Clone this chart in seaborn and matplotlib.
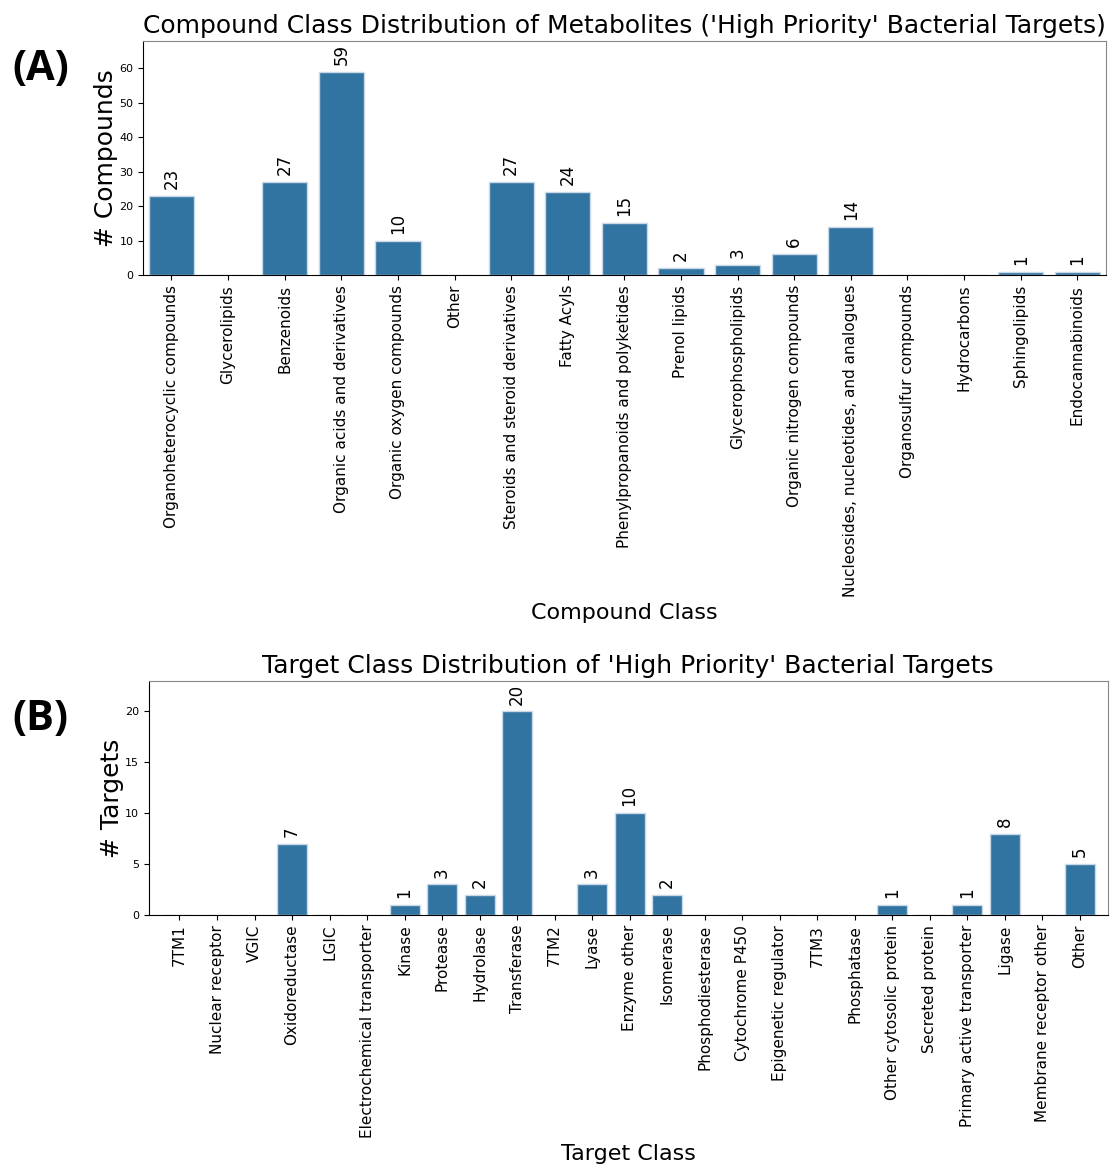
import pandas as pd
import seaborn as sns
import matplotlib.pyplot as plt

compound_classes = ['Organoheterocyclic compounds', 'Glycerolipids', 'Benzenoids',
                    'Organic acids and derivatives', 'Organic oxygen compounds', 'Other',
                    'Steroids and steroid derivatives', 'Fatty Acyls',
                    'Phenylpropanoids and polyketides', 'Prenol lipids',
                    'Glycerophospholipids', 'Organic nitrogen compounds',
                    'Nucleosides, nucleotides, and analogues', 'Organosulfur compounds',
                    'Hydrocarbons', 'Sphingolipids', 'Endocannabinoids']
compound_counts = [23, 0, 27, 59, 10, 0, 27, 24, 15, 2, 3, 6, 14, 0, 0, 1, 1]

target_classes = ['7TM1', 'Nuclear receptor', 'VGIC', 'Oxidoreductase', 'LGIC',
                  'Electrochemical transporter', 'Kinase', 'Protease', 'Hydrolase',
                  'Transferase', '7TM2', 'Lyase', 'Enzyme other', 'Isomerase',
                  'Phosphodiesterase', 'Cytochrome P450', 'Epigenetic regulator', '7TM3',
                  'Phosphatase', 'Other cytosolic protein', 'Secreted protein',
                  'Primary active transporter', 'Ligase', 'Membrane receptor other', 'Other']
target_counts = [0, 0, 0, 7, 0, 0, 1, 3, 2, 20, 0, 3, 10, 2, 0, 0, 0, 0, 0, 1, 0, 1, 8, 0, 5]

df_a = pd.DataFrame({'Compound Class': compound_classes, 'Count': compound_counts})
df_b = pd.DataFrame({'Target Class': target_classes, 'Count': target_counts})

fig = plt.figure(figsize=(11.1, 11.64), dpi=100)
ax1 = fig.add_axes([0.129, 0.7637, 0.867, 0.2011])
ax2 = fig.add_axes([0.134, 0.2139, 0.864, 0.2011])


def draw(ax, df, xcol, ylabel, title, ymax):
    sns.barplot(data=df, x=xcol, y='Count', color='C0', ax=ax,
                edgecolor='#c9d9e8', linewidth=1)
    labels = [str(v) if v > 0 else '' for v in df['Count']]
    ax.bar_label(ax.containers[0], labels=labels, rotation=90, padding=5, fontsize=12)
    ax.set_ylim(0, ymax * 1.15)
    ax.set_title(title, fontsize=18)
    ax.set_ylabel(ylabel, fontsize=18, labelpad=1)
    ax.set_xlabel(xcol, fontsize=16)
    ax.tick_params(axis='x', labelrotation=90, labelsize=11)
    ax.tick_params(axis='y', labelsize=8)
    for s in ['top', 'right']:
        ax.spines[s].set_color('#888888')


draw(ax1, df_a, 'Compound Class', '# Compounds',
     "Compound Class Distribution of Metabolites ('High Priority' Bacterial Targets)", 59)
draw(ax2, df_b, 'Target Class', '# Targets',
     "Target Class Distribution of 'High Priority' Bacterial Targets", 20)
ax2.set_xlim(-0.82, len(target_classes) - 0.25)

fig.text(0.011, 0.94, '(A)', fontsize=30, fontweight='bold', family='Open Sans', va='center')
fig.text(0.011, 0.382, '(B)', fontsize=30, fontweight='bold', family='Open Sans', va='center')

plt.savefig('out.png', dpi=100)
plt.close()
